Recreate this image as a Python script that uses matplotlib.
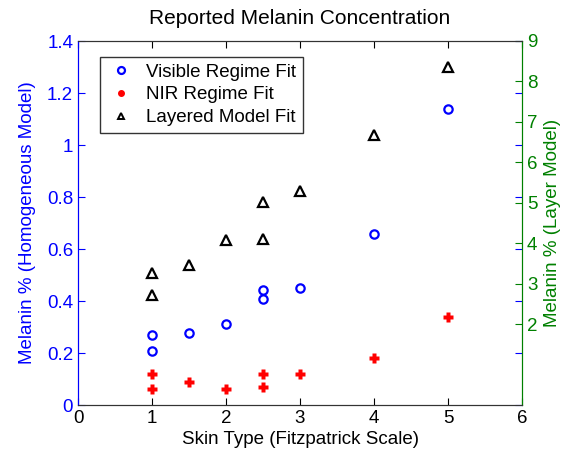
import matplotlib
matplotlib.use("Agg")
import matplotlib.pyplot as plt
from matplotlib.lines import Line2D

plt.rcParams['font.family'] = ['Liberation Sans', 'DejaVu Sans']

vis_x = [1, 1, 1.5, 2, 2.5, 2.5, 3, 4, 5]
vis_y = [0.269, 0.209, 0.278, 0.310, 0.442, 0.409, 0.449, 0.659, 1.138]

nir_x = [1, 1, 1.5, 2, 2.5, 2.5, 3, 4, 5]
nir_y = [0.119, 0.060, 0.090, 0.060, 0.119, 0.070, 0.119, 0.180, 0.340]

lay_x = [1, 1, 1.5, 2, 2.5, 2.5, 3, 4, 5]
lay_y = [3.26, 2.72, 3.46, 4.08, 4.10, 5.01, 5.29, 6.68, 8.35]

title = "Reported Melanin Concentration"
xlabel = "Skin Type (Fitzpatrick Scale)"
ylabel_left = "Melanin % (Homogeneous Model)"
ylabel_right = "Melanin % (Layer Model)"
labels = ["Visible Regime Fit", "NIR Regime Fit", "Layered Model Fit"]

blue = "#0000ff"
red = "#ff0000"
green = "#008000"
fs = 13.5

fig = plt.figure(figsize=(5.69, 4.59), dpi=100)
ax = fig.add_axes([78/569, 54/459, 444/569, 364/459])
ax2 = ax.twinx()

ax.plot(vis_x, vis_y, linestyle='none', marker='o', markersize=6,
        markerfacecolor='none', markeredgecolor=blue, markeredgewidth=1.6)
ax.plot(nir_x, nir_y, linestyle='none', marker='P', markersize=6.5,
        markerfacecolor=red, markeredgecolor='none')
ax2.plot(lay_x, lay_y, linestyle='none', marker='^', markersize=7,
         markerfacecolor='none', markeredgecolor='black', markeredgewidth=1.6)

ax.set_xlim(0, 6)
ax.set_ylim(0, 1.4)
ax2.set_ylim(0, 9)
ax.set_xticks(range(0, 7))
ax.set_yticks([0, 0.2, 0.4, 0.6, 0.8, 1.0, 1.2, 1.4])
ax.set_yticklabels(["0", "0.2", "0.4", "0.6", "0.8", "1", "1.2", "1.4"])
ax2.set_yticks(range(2, 10))

ax.tick_params(axis='x', direction='in', top=True, labelsize=fs, colors='black', length=5)
ax.tick_params(axis='y', direction='in', right=True, labelsize=fs, colors=blue, length=5)
ax2.tick_params(axis='y', direction='in', labelsize=fs, colors=green, length=5)

ax.set_title(title, fontsize=15, pad=12)
ax.set_xlabel(xlabel, fontsize=fs, labelpad=3)
ax.set_ylabel(ylabel_left, fontsize=fs, color=blue, labelpad=8)
ax2.set_ylabel(ylabel_right, fontsize=fs, color=green, labelpad=5)

for a in (ax, ax2):
    a.spines['top'].set_color('#333333')
    a.spines['bottom'].set_color('#333333')
ax.spines['left'].set_color(blue)
ax2.spines['left'].set_color(blue)
ax2.spines['right'].set_color(green)
ax.spines['right'].set_color(green)

handles = [
    Line2D([], [], linestyle='none', marker='o', markersize=5, markerfacecolor='none',
           markeredgecolor=blue, markeredgewidth=1.6),
    Line2D([], [], linestyle='none', marker='o', markersize=4, markerfacecolor=red,
           markeredgecolor=red),
    Line2D([], [], linestyle='none', marker='^', markersize=5, markerfacecolor='none',
           markeredgecolor='black', markeredgewidth=1.4),
]
leg = ax2.legend(handles, labels, loc='upper left', bbox_to_anchor=(22/444, 1 - 16/364),
                 borderaxespad=0, fontsize=fs, frameon=True, fancybox=False,
                 edgecolor='black', handlelength=1.5, handletextpad=0.6,
                 labelspacing=0.3, borderpad=0.35)
leg.get_frame().set_linewidth(1.0)

fig.savefig("out.png", dpi=100)
